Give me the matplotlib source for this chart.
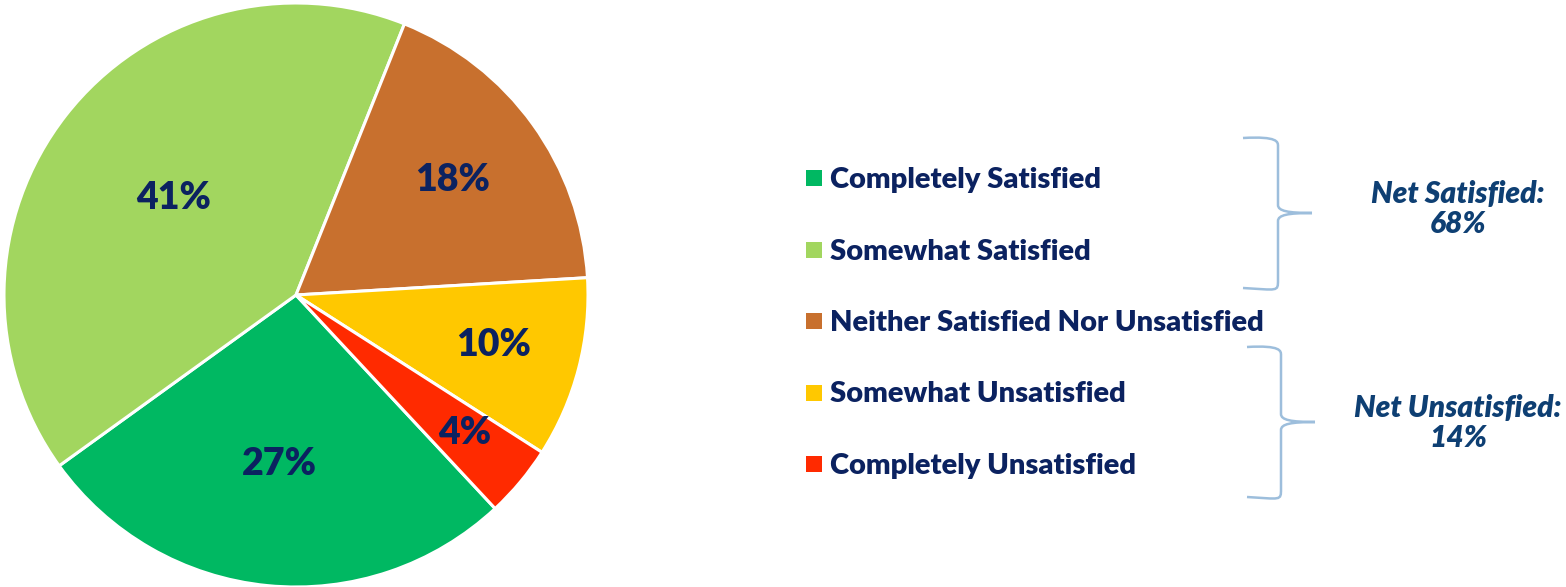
import matplotlib.pyplot as plt
from matplotlib.path import Path
from matplotlib.patches import PathPatch
import numpy as np

# ----------------- Data -----------------
labels = ["Completely Satisfied", "Somewhat Satisfied",
          "Neither Satisfied Nor Unsatisfied", "Somewhat Unsatisfied",
          "Completely Unsatisfied"]
values = [27, 41, 18, 10, 4]
colors = ["#00B862", "#A2D65F", "#C8702E", "#FFC800", "#FF2A00"]
label_dist = [0.59, 0.53, 0.66, 0.70, 0.75]
net_labels = ["Net Satisfied:\n68%", "Net Unsatisfied:\n14%"]

NAVY = "#0B2260"
NET_BLUE = "#0E3F73"
BRACE = "#9DBEDC"
FONT = "Lato"

W, H = 1566, 587
fig = plt.figure(figsize=(W / 100, H / 100), dpi=100)
ax = fig.add_axes([0, 0, 1, 1])

# ----------------- Pie -----------------
cx, cy, r = 296, 292, 292
wedges, _ = ax.pie(values, colors=colors, startangle=313, counterclock=False,
                   center=(cx, cy), radius=r, frame=True,
                   wedgeprops={"edgecolor": "white", "linewidth": 2.2})
ax.set_xlim(0, W)
ax.set_ylim(0, H)
ax.set_aspect("equal")
ax.axis("off")

for w, v, d in zip(wedges, values, label_dist):
    ang = np.deg2rad((w.theta1 + w.theta2) / 2)
    ax.text(cx + d * r * np.cos(ang), cy + d * r * np.sin(ang) + 2, f"{v}%",
            ha="center", va="center", fontsize=27, fontweight="heavy",
            color=NAVY, family=FONT)

# ----------------- Legend -----------------
y0, step = H - 180, 71.5
for i, (lab, c) in enumerate(zip(labels, colors)):
    y = y0 - i * step
    ax.scatter([814], [y + 2], marker="s", s=120, color=c, linewidths=0)
    ax.text(830, y, lab, ha="left", va="center", fontsize=21,
            fontweight="heavy", color=NAVY, family=FONT)


# ----------------- Braces -----------------
def brace(xl, xr, tip, ytop, ybot):
    ymid = (ytop + ybot) / 2
    k = 8
    verts = [(xl, ytop), (xr, ytop + 2), (xr, ytop - 4), (xr, ytop - k),
             (xr, ymid + k), (xr, ymid + 2), (xr + 10, ymid), (tip, ymid),
             (xr + 10, ymid), (xr, ymid - 2), (xr, ymid - k),
             (xr, ybot + k), (xr, ybot - 4), (xr, ybot - 2), (xl, ybot)]
    codes = [Path.MOVETO, Path.CURVE4, Path.CURVE4, Path.CURVE4,
             Path.LINETO, Path.CURVE4, Path.CURVE4, Path.CURVE4,
             Path.CURVE4, Path.CURVE4, Path.CURVE4,
             Path.LINETO, Path.CURVE4, Path.CURVE4, Path.CURVE4]
    ax.add_patch(PathPatch(Path(verts, codes), fill=False, edgecolor=BRACE,
                           linewidth=1.8))


brace(1243, 1278, 1312, H - 138, H - 288)
brace(1247, 1281, 1315, H - 347, H - 497)

for txt, y in zip(net_labels, [H - 209, H - 423]):
    ax.text(1458, y, txt, ha="center", va="center", fontsize=21.5,
            fontweight="heavy", fontstyle="italic", color=NET_BLUE,
            family=FONT, linespacing=1.05)

plt.savefig("out.png", dpi=100)
plt.close()
